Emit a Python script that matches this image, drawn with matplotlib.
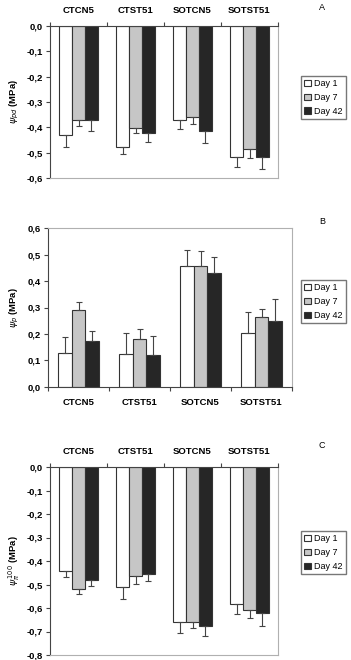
import numpy as np
import matplotlib
matplotlib.use('Agg')
import matplotlib.pyplot as plt
from matplotlib.ticker import FuncFormatter, FixedLocator
from matplotlib.transforms import blended_transform_factory

plt.rcParams['font.family'] = ['Liberation Sans', 'DejaVu Sans']
plt.rcParams['font.size'] = 6.5

categories = ['CTCN5', 'CTST51', 'SOTCN5', 'SOTST51']
days = ['Day 1', 'Day 7', 'Day 42']

# panel A: predawn water potential
psi_pd = [[-0.430, -0.478, -0.370, -0.518],
          [-0.372, -0.404, -0.358, -0.484],
          [-0.372, -0.421, -0.416, -0.516]]
psi_pd_err = [[0.047, 0.026, 0.037, 0.037],
              [0.024, 0.018, 0.028, 0.037],
              [0.042, 0.037, 0.047, 0.050]]

# panel B: turgor potential
psi_p = [[0.128, 0.125, 0.456, 0.205],
         [0.291, 0.180, 0.456, 0.263],
         [0.174, 0.121, 0.429, 0.248]]
psi_p_err = [[0.060, 0.080, 0.060, 0.079],
             [0.029, 0.040, 0.057, 0.031],
             [0.037, 0.070, 0.062, 0.085]]

# panel C: osmotic potential at full turgor
psi_pi = [[-0.441, -0.511, -0.658, -0.583],
          [-0.520, -0.462, -0.658, -0.610],
          [-0.480, -0.454, -0.675, -0.622]]
psi_pi_err = [[0.029, 0.051, 0.050, 0.041],
              [0.020, 0.034, 0.029, 0.031],
              [0.028, 0.032, 0.043, 0.053]]

colors = ['white', '#c6c6c6', '#262626']
edge = '#333333'
light = '#b0b0b0'

W, H = 351, 660
fig = plt.figure(figsize=(W / 100, H / 100), dpi=100)


def fx(px):
    return px / W


def fy(py):
    return 1 - py / H


def fmt_comma(v, p):
    if abs(v) < 1e-9:
        v = 0.0
    return ('%.1f' % v).replace('.', ',')


def panel(rect, vals, errs, ylim, ylabel, top_axis, letter, leg_xy, letter_xy):
    ax = fig.add_axes(rect)
    x = np.arange(len(categories))
    w = 0.225
    for i in range(3):
        v = np.array(vals[i])
        e = np.array(errs[i])
        pos = x + (i - 1) * w
        ax.bar(pos, v, width=w, color=colors[i], edgecolor=edge, linewidth=0.8,
               label=days[i], zorder=2)
        lo = np.where(v < 0, e, 0)
        hi = np.where(v > 0, e, 0)
        ax.errorbar(pos, v, yerr=[lo, hi], fmt='none', ecolor='#444444',
                    elinewidth=0.8, capsize=2.2, capthick=0.8, zorder=3)
    ax.set_xlim(-0.5, 3.5)
    ax.set_ylim(*ylim)
    ax.set_yticks(np.arange(ylim[0], ylim[1] + 0.05, 0.1))
    ax.yaxis.set_major_formatter(FuncFormatter(fmt_comma))
    for t in ax.get_yticklabels():
        t.set_fontweight('bold')
    ax.set_xticks(x)
    ax.set_xticklabels(categories, fontweight='bold', fontsize=6.8)
    ax.xaxis.set_minor_locator(FixedLocator(np.arange(-0.5, 4, 1)))
    ax.tick_params(axis='y', direction='out', length=3, width=0.8, pad=2,
                   color='#444444', labelsize=6.8)
    ax.tick_params(axis='x', which='major', length=0, pad=8)
    ax.tick_params(axis='x', which='minor', direction='out', length=3,
                   width=0.8, color='#444444')
    if top_axis:
        ax.xaxis.tick_top()
        ax.tick_params(axis='x', which='both', top=True, bottom=False,
                       labeltop=True, labelbottom=False)
        ax.spines['top'].set_color('#444444')
        ax.spines['bottom'].set_color(light)
    else:
        ax.spines['bottom'].set_color('#444444')
        ax.spines['top'].set_color(light)
    ax.spines['left'].set_color('#444444')
    ax.spines['right'].set_color(light)
    for s in ax.spines.values():
        s.set_linewidth(0.8)
    # y label placed at a fixed pixel column like the reference
    tr = blended_transform_factory(fig.transFigure, ax.transAxes)
    ax.text(fx(14), 0.5, ylabel, transform=tr, rotation=90, ha='center',
            va='center', fontweight='bold', fontsize=6.8)
    fig.legend(*ax.get_legend_handles_labels(), loc='upper left',
               bbox_to_anchor=(fx(leg_xy[0]), fy(leg_xy[1])),
               frameon=True, fancybox=False, edgecolor='#555555',
               fontsize=6.5, handlelength=0.8, handleheight=0.8,
               handletextpad=0.3, borderpad=0.35, labelspacing=0.55,
               borderaxespad=0)
    fig.text(fx(letter_xy[0]), fy(letter_xy[1]), letter, ha='center',
             va='center', fontsize=6.5)
    return ax


panel([fx(50), fy(178), fx(228), (178 - 26) / H], psi_pd, psi_pd_err,
      (-0.6, 0.0), r'$\psi_{pd}$ (MPa)', True, 'A', (301, 76), (322, 7))
panel([fx(48), fy(387), fx(244), (387 - 228) / H], psi_p, psi_p_err,
      (0.0, 0.6), r'$\psi_{p}$ (MPa)', False, 'B', (301, 280), (322, 221))
panel([fx(50), fy(655), fx(228), (655 - 467) / H], psi_pi, psi_pi_err,
      (-0.8, 0.0), r'$\psi_{\pi}^{\,100}$ (MPa)', True, 'C', (301, 531), (322, 445))

fig.savefig('out.png', dpi=100)
